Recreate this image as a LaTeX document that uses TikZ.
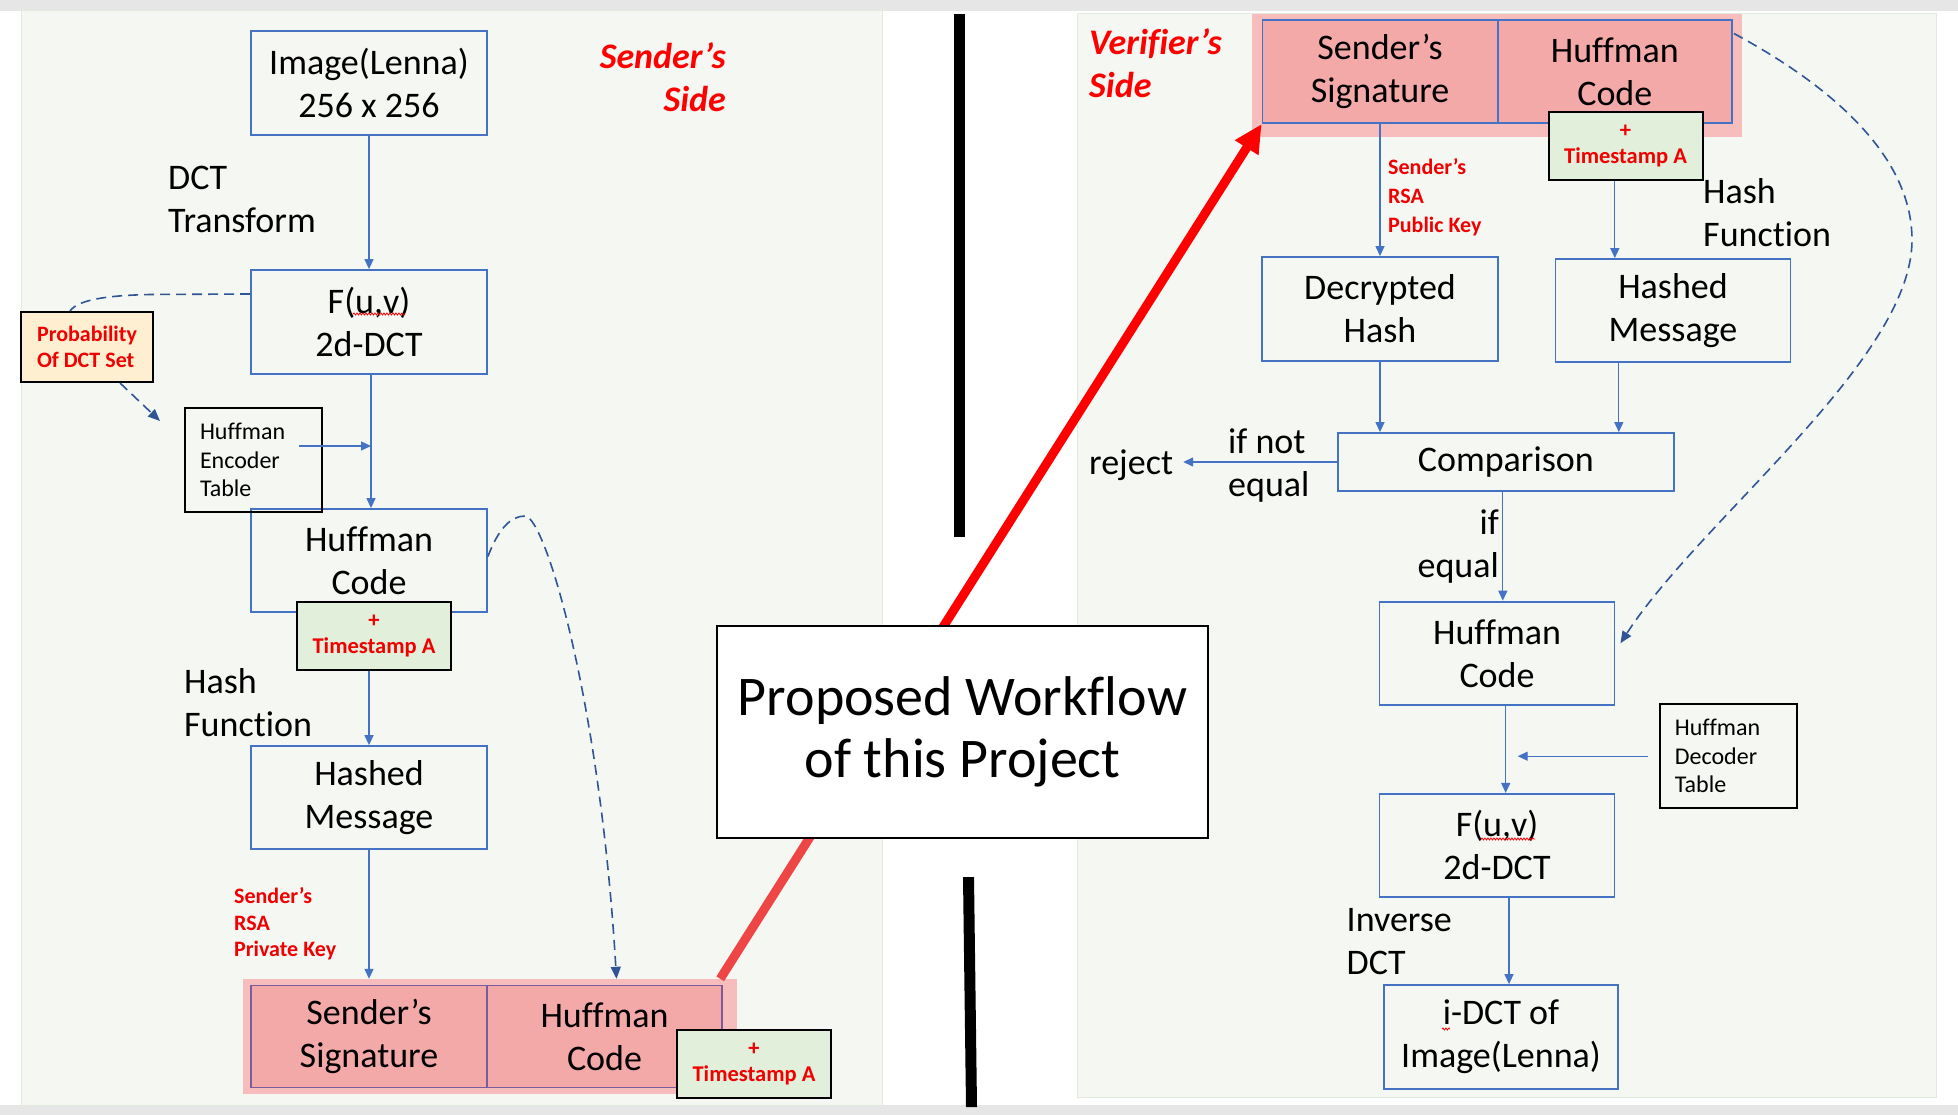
\documentclass[tikz,border=0pt]{standalone}
\usepackage{fontspec}
\setmainfont{Carlito}[Ligatures=NoCommon]
\usetikzlibrary{arrows.meta,calc,decorations.pathmorphing}
\definecolor{boxblue}{HTML}{4472C4}
\definecolor{dashblue}{HTML}{2F5597}
\definecolor{panelbg}{HTML}{F5F7F3}
\definecolor{panelline}{HTML}{E2EADC}
\definecolor{topgray}{HTML}{E6E6E6}
\definecolor{halo}{HTML}{F7BDBD}
\definecolor{sigfill}{HTML}{F4A9A9}
\definecolor{sigline}{HTML}{7A5C9E}
\definecolor{tsfill}{HTML}{E2EFDA}
\definecolor{probfill}{HTML}{FEEFD0}
\definecolor{lblred}{HTML}{F00000}
\definecolor{arrred}{HTML}{FF0000}
\definecolor{arrredlt}{HTML}{EE4545}
\tikzset{
  bigtxt/.style={font=\fontsize{36}{43}\selectfont},
  bbox/.style={draw=boxblue, line width=1.8pt, bigtxt, align=center, inner sep=0pt,
    minimum width=236pt, minimum height=104pt},
  sigbox/.style={fill=sigfill, line width=1.8pt, bigtxt, align=center, inner sep=0pt},
  halobox/.style={fill=halo, draw=none, inner sep=0pt},
  tsbox/.style={draw=black, line width=2pt, fill=tsfill, minimum width=154pt, minimum height=68pt,
    align=center, inner sep=0pt, text=lblred, font=\bfseries\fontsize{22.5}{26}\selectfont},
  probbox/.style={draw=black, line width=2pt, fill=probfill, minimum width=132pt, minimum height=70pt,
    align=left, inner sep=0pt, text=lblred, font=\bfseries\fontsize{22}{26}\selectfont},
  tblbox/.style={draw=black, line width=2.2pt, minimum width=137pt, minimum height=104pt,
    text width=107pt, inner xsep=15pt, inner ysep=0pt, align=left, font=\fontsize{24}{28.5}\selectfont},
  lbl/.style={inner sep=0pt, bigtxt},
  sidelbl/.style={inner sep=0pt, text=arrred, font=\bfseries\itshape\fontsize{36}{43}\selectfont},
  redlbl/.style={inner sep=0pt, text=lblred, font=\bfseries\fontsize{22}{26.7}\selectfont},
  redlblb/.style={inner sep=0pt, text=lblred, font=\bfseries\fontsize{22}{29}\selectfont},
  conn/.style={draw=boxblue, line width=1.3pt, -{Triangle[width=9pt,length=10pt]}},
  dashconn/.style={draw=dashblue, line width=1.6pt, dash pattern=on 10pt off 6pt},
  dtip/.style={-{Triangle[width=10pt,length=12pt]}},
  squig/.style={draw=red, line width=0.8pt, decorate, decoration={snake, amplitude=1pt, segment length=3pt}}
}
\begin{document}
\begin{tikzpicture}[x=1pt,y=-1pt]
\useasboundingbox (0,0) rectangle (1958,1115);
% background
\fill[white] (0,0) rectangle (1958,1115);
\fill[topgray] (0,0) rectangle (1958,11);
\fill[topgray] (0,1105) rectangle (1958,1115);
\draw[panelline, fill=panelbg, line width=1pt] (21,11) rectangle (882,1105);
\draw[panelline, fill=panelbg, line width=1pt] (1077,14) rectangle (1936,1097);
\fill[black] (954,14) rectangle (965,537);
\fill[black] (963,877) -- (974,877) -- (977,1107) -- (966,1107) -- cycle;

% signature blocks
\node[halobox, minimum width=494pt, minimum height=115pt] (lhalo) at (490,1036.5) {};
\node[sigbox, draw=sigline, minimum width=236pt, minimum height=102pt] (lsig) at (369,1036.5) {Sender’s\\Signature};
\node[sigbox, draw=sigline, minimum width=235pt, minimum height=102pt] (lhc) at (604.5,1036.5) {Huffman\\Code};
\node[halobox, minimum width=490.5pt, minimum height=123.4pt] (rhalo) at (1496.75,75.3) {};
\node[sigbox, draw=boxblue, minimum width=235pt, minimum height=103.4pt] (rsig) at (1380,71.5) {Sender’s\\Signature};
\node[sigbox, draw=boxblue, minimum width=234.4pt, minimum height=103.4pt] (rhc) at (1614.8,71.5) {Huffman\\Code};

% red transfer arrow
\coordinate (rs) at ([xshift=-17pt]lhalo.north east);
\coordinate (re) at (rsig.south west);
\draw[line width=9pt, arrredlt] (rs) -- ($(rs)!0.3!(re)$);
\draw[line width=9pt, arrred, -{Triangle[width=26pt,length=28pt]}] ($(rs)!0.28!(re)$) -- (re);

% title box
\node[draw=black, line width=2pt, fill=white, minimum width=491pt, minimum height=212pt,
  font=\fontsize{56}{62}\selectfont, align=center, inner sep=0pt] (prop) at (962.5,732) {Proposed Workflow\\of this Project};

% ---- sender's side ----
\node[bbox] (img) at (369,83) {Image(Lenna)\\256 x 256};
\node[bbox] (fuv) at (369,322) {F(u,v)\\2d-DCT};
\node[bbox, minimum height=103pt] (lhuff) at (369,560.5) {Huffman\\Code};
\node[tsbox] (lts1) at (374,636) {+\\Timestamp A};
\node[bbox, minimum height=103pt] (lhash) at (369,797.5) {Hashed\\Message};
\node[probbox] (prob) at (87,347) {Probability\\Of DCT Set};
\node[tblbox] (enc) at (253.5,460) {Huffman\\Encoder\\Table};
\node[tsbox] (lts2) at (754,1064) {+\\Timestamp A};

\node[sidelbl, anchor=east, align=right] (sside) at (726,77) {Sender’s\\Side};
\node[lbl, anchor=west, align=left] (dctl) at (168,199) {DCT\\Transform};
\node[lbl, anchor=west, align=left] (hashl) at (184,703) {Hash\\Function};
\node[redlbl, anchor=west, align=left] (privl) at (234,924) {Sender’s\\RSA\\Private Key};

\draw[conn] (img.south) -- (fuv.north);
\coordinate (lline) at ([xshift=2pt]lhuff.north);
\coordinate (lltop) at ([xshift=2pt]fuv.south);
\draw[conn] (lltop) -- (lline);
\coordinate (encs) at ([shift={(-24pt,14pt)}]enc.east);
\draw[conn] (encs) -- (encs -| lline);
\draw[conn] (lts1.south -| lhash.north) -- (lhash.north);
\draw[conn] (lhash.south) -- (lhash.south |- lhalo.north);

\coordinate (fuvw) at ([yshift=28pt]fuv.west);
\coordinate (probn) at ([xshift=-17pt]prob.north);
\draw[dashconn] (fuvw) -- (150,294.5) .. controls (105,295.5) and (78,300) .. (probn);
\coordinate (probs) at ([xshift=33pt]prob.south);
\coordinate (probtip) at (160,421);
\draw[dashconn, dtip] (probs) -- (probtip);
\coordinate (lhe) at ([yshift=4pt]lhuff.east);
\coordinate (lhcx) at ([xshift=12pt]lhc.north);
\coordinate (lhcend) at (lhcx |- lhalo.north);
\draw[dashconn, dtip] (lhe) .. controls (498,530) and (510,516) .. (525,516)
  .. controls (545,516) and (600,700) .. (lhcend);

\draw[squig] (353,314) -- (405,314);

% ---- verifier's side ----
\node[tsbox] (rts) at (1625.5,146.5) {+\\Timestamp A};
\node[bbox] (dech) at (1380,309) {Decrypted\\Hash};
\node[bbox, minimum width=235pt, minimum height=103pt] (rhash) at (1673,310.5) {Hashed\\Message};
\node[bbox, minimum width=335.6pt, minimum height=58pt] (comp) at (1505.8,462) {Comparison};
\node[bbox, minimum width=235pt, minimum height=103.4pt] (rhuff) at (1497,653.3) {Huffman\\Code};
\node[tblbox] (dect) at (1728.4,756.2) {Huffman\\Decoder\\Table};
\node[bbox, minimum width=235pt, minimum height=103pt] (rfuv) at (1497,845.3) {F(u,v)\\2d-DCT};
\node[bbox, minimum width=234pt] (idct) at (1501,1037) {i-DCT of\\Image(Lenna)};

\node[sidelbl, anchor=west, align=left] (vside) at (1089,63) {Verifier’s\\Side};
\node[redlblb, anchor=west, align=left] (publ) at (1388,197) {Sender’s\\RSA\\Public Key};
\node[lbl, anchor=west, align=left] (hashr) at (1703,212.5) {Hash\\Function};
\node[lbl, anchor=west] (rej) at (1089,465) {reject};
\node[lbl, anchor=west, align=left] (ifnot) at (1228,466) {if not\\equal};
\node[lbl, anchor=east, align=right] (ifeq) at (1499,547) {if\\equal};
\node[lbl, anchor=west, align=left] (invl) at (1346.5,941.5) {Inverse\\DCT};

\draw[conn] (rsig.south) -- (dech.north);
\draw[conn] (rhc.south |- rts.south) -- (rhc.south |- rhash.north);
\draw[conn] (dech.south) -- (dech.south |- comp.north);
\coordinate (rhs) at ([xshift=4pt]rhc.south);
\draw[conn] (rhs |- rhash.south) -- (rhs |- comp.north);
\coordinate (rejtip) at ([xshift=10pt]rej.east);
\draw[conn] (comp.west) -- (rejtip |- comp.west);
\coordinate (cmpx) at ([xshift=-3pt]comp.south);
\draw[conn] (cmpx) -- (cmpx |- rhuff.north);
\coordinate (hx) at ([xshift=8.7pt]rhuff.south);
\draw[conn] (hx) -- (hx |- rfuv.north);
\coordinate (dtmp) at (hx |- dect.west);
\coordinate (dectip) at ([xshift=12pt]dtmp);
\coordinate (decs) at ([xshift=-11pt]dect.west);
\draw[conn] (decs) -- (dectip);
\coordinate (fx) at ([xshift=12pt]rfuv.south);
\draw[conn] (fx) -- (fx |- idct.north);

\coordinate (rhcs) at ([shift={(1pt,38pt)}]rhc.east);
\coordinate (rhufe) at ([shift={(5pt,10pt)}]rhuff.east);
\draw[dashconn, dtip] (rhcs) .. controls (1820,80) and (1912,150) .. (1912,240)
  .. controls (1912,360) and (1700,520) .. (rhufe);

\draw[squig] (1481,839) -- (1535,839);
\draw[squig] (1442,1029) -- (1450,1029);
\end{tikzpicture}
\end{document}
